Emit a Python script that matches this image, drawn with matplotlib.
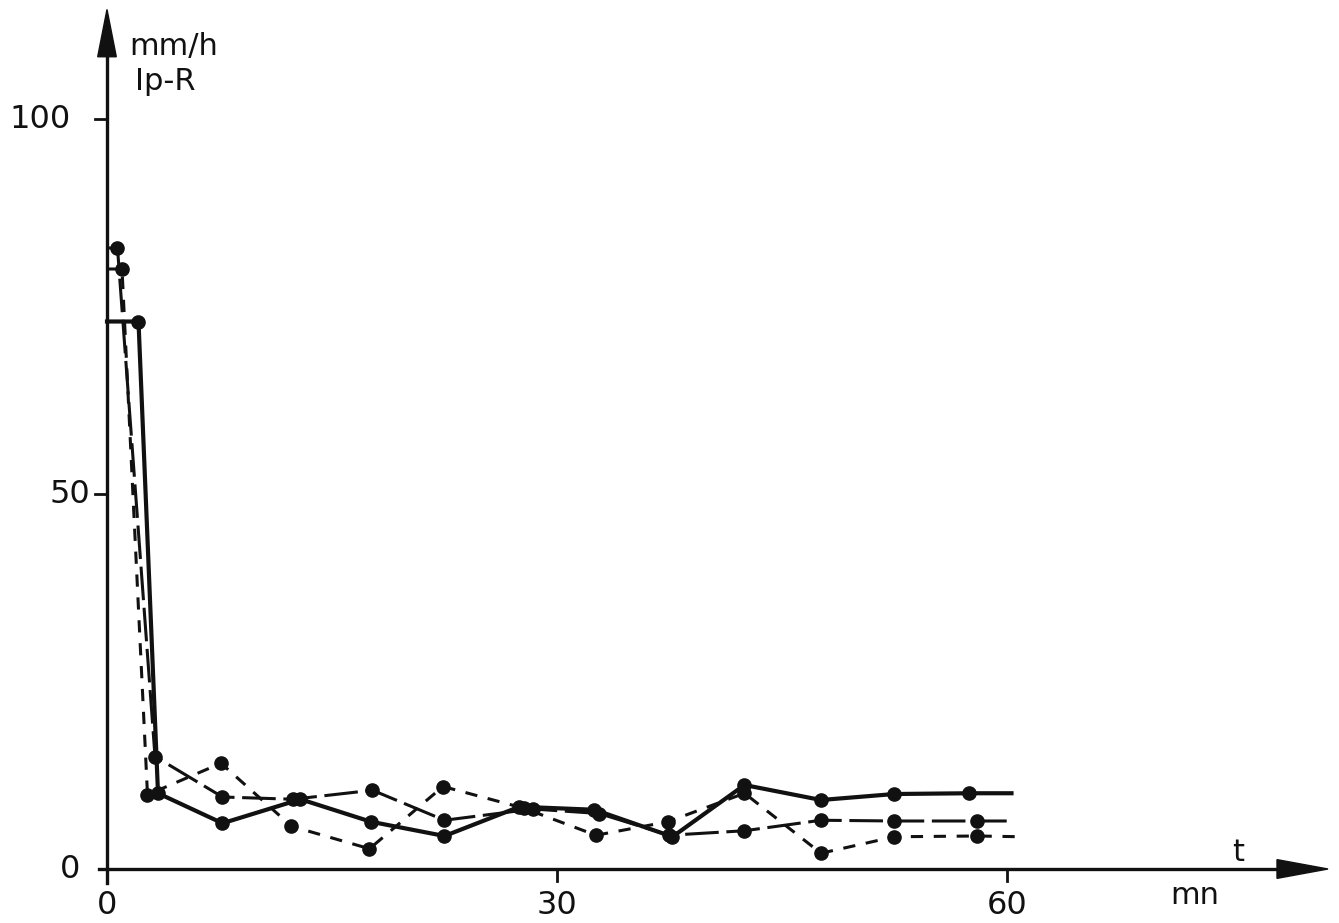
import matplotlib
matplotlib.use("Agg")
import matplotlib.pyplot as plt
from matplotlib.patches import Polygon

plt.rcParams['font.family'] = ['DejaVu Sans']

# ---- data (time in mn, intensity Ip-R in mm/h) ----
t_solid = [0, 2.1, 3.4, 7.7, 12.9, 17.6, 22.5, 27.5, 32.5, 37.7, 42.5, 47.6, 52.5, 57.5, 60.3]
v_solid = [73, 73, 10.1, 6.1, 9.3, 6.3, 4.4, 8.3, 7.9, 4.3, 11.2, 9.2, 10.0, 10.1, 10.1]

t_long = [0, 0.7, 3.2, 7.7, 12.4, 17.7, 22.5, 28.4, 32.8, 37.5, 42.5, 47.6, 52.5, 58.0, 60.4]
v_long = [82.8, 82.8, 15.0, 9.6, 9.3, 10.5, 6.5, 8.0, 7.4, 4.5, 5.1, 6.5, 6.4, 6.4, 6.4]

t_short = [0, 1.0, 2.7, 7.6, 12.3, 17.5, 22.4, 27.8, 32.6, 37.4, 42.5, 47.6, 52.5, 58.0, 61.0]
v_short = [80, 80, 9.9, 14.1, 5.7, 2.7, 11.0, 8.1, 4.5, 6.3, 10.1, 2.1, 4.3, 4.4, 4.3]

y_ticks = [0, 50, 100]
y_ticklabels = ["0", "50", "100"]
x_ticks = [0, 30, 60]
x_ticklabels = ["0", "30", "60"]

# ---- figure ----
W, H = 1339, 923
fig = plt.figure(figsize=(W / 100, H / 100), dpi=100)
ax = fig.add_axes([0, 0, 1, 1])
px_x = 15.0   # pixels per minute
px_y = 7.5    # pixels per mm/h
x0, y0 = 107, 869
ax.set_xlim(-x0 / px_x, (W - x0) / px_x)
ax.set_ylim(-(H - y0) / px_y, y0 / px_y)
ax.axis('off')

col = '#111111'
ms = 9.5
ax.plot(t_solid, v_solid, '-', color=col, lw=3.0, marker='o', ms=ms,
        markevery=slice(1, -1), solid_joinstyle='round', zorder=3)
ax.plot(t_long, v_long, color=col, lw=2.2, marker='o', ms=ms,
        markevery=slice(1, -1), dashes=(11, 2.5), zorder=3)
ax.plot(t_short, v_short, color=col, lw=2.2, marker='o', ms=ms,
        markevery=slice(1, -1), dashes=(4, 3.5), zorder=3)

# ---- axes with arrows ----
lw_ax = 2.4
ax.plot([0, 0], [-1.8, 108.5], color=col, lw=lw_ax, zorder=2)
ax.add_patch(Polygon([[-0.62, 108.3], [0.62, 108.3], [0, 114.6]],
                     closed=True, color=col, zorder=2))
ax.plot([-0.5, 78.0], [0, 0], color=col, lw=lw_ax, zorder=2)
ax.add_patch(Polygon([[78.0, -1.25], [78.0, 1.25], [81.4, 0]],
                     closed=True, color=col, zorder=2))

# y ticks (label right edges differ slightly in the original drawing)
y_label_right = [-1.8, -1.1, -2.4]
for yv, lab, xr in zip(y_ticks, y_ticklabels, y_label_right):
    if yv > 0:
        ax.plot([-0.8, 0], [yv, yv], color=col, lw=2.0)
    ax.text(xr, yv, lab, ha='right', va='center', fontsize=23, color=col)

# x ticks
for xv, lab in zip(x_ticks, x_ticklabels):
    if xv > 0:
        ax.plot([xv, xv], [0, -1.6], color=col, lw=2.0)
    ax.text(xv, -4.9, lab, ha='center', va='center', fontsize=23, color=col)

# axis labels
ax.text(1.5, 109.7, "mm/h", ha='left', va='center', fontsize=22, color=col)
ax.text(1.9, 105.0, "Ip-R", ha='left', va='center', fontsize=22, color=col)
ax.text(75.4, 2.2, "t", ha='center', va='center', fontsize=22, color=col)
ax.text(72.5, -3.5, "mn", ha='center', va='center', fontsize=22, color=col)

fig.savefig("out.png", dpi=100, facecolor='white')
